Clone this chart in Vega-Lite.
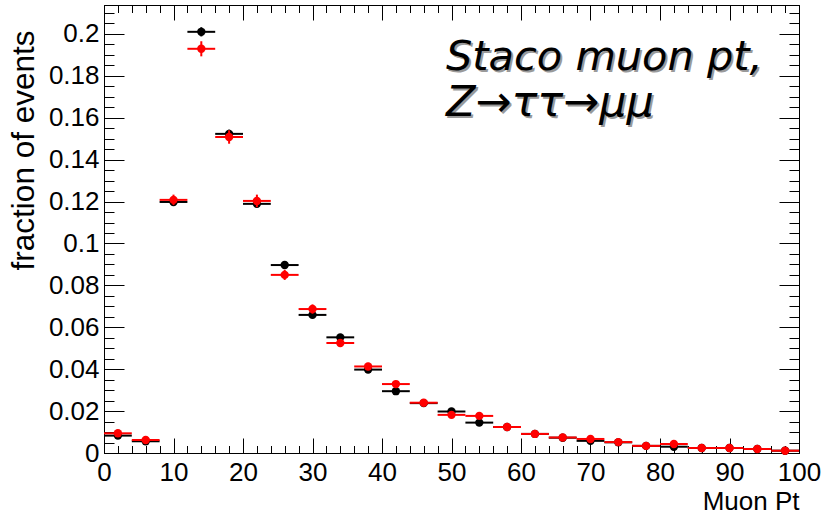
{
  "$schema": "https://vega.github.io/schema/vega-lite/v6.json",
  "width": 695,
  "height": 448,
  "autosize": "none",
  "padding": {"left": 104, "top": 5, "right": 22, "bottom": 62},
  "background": "white",
  "config": {
    "font": "Liberation Sans",
    "view": {"stroke": "black", "strokeWidth": 1},
    "axis": {
      "domainColor": "black",
      "domainWidth": 1,
      "tickColor": "black",
      "tickWidth": 1,
      "labelColor": "black",
      "labelFont": "Liberation Sans",
      "labelFontSize": 26,
      "labelOverlap": false,
      "labelFlush": false,
      "labelBound": false,
      "titleColor": "black",
      "titleFont": "Liberation Sans",
      "titleFontWeight": "normal",
      "grid": false
    }
  },
  "datasets": {
    "sample1": [
      {"lo": 0, "hi": 4, "x": 2, "frac": 0.0083, "err": 0.0006},
      {"lo": 4, "hi": 8, "x": 6, "frac": 0.0056, "err": 0.0005},
      {"lo": 8, "hi": 12, "x": 10, "frac": 0.1198, "err": 0.0018},
      {"lo": 12, "hi": 16, "x": 14, "frac": 0.2010, "err": 0.0022},
      {"lo": 16, "hi": 20, "x": 18, "frac": 0.1523, "err": 0.0020},
      {"lo": 20, "hi": 24, "x": 22, "frac": 0.1189, "err": 0.0018},
      {"lo": 24, "hi": 28, "x": 26, "frac": 0.0897, "err": 0.0015},
      {"lo": 28, "hi": 32, "x": 30, "frac": 0.0659, "err": 0.0013},
      {"lo": 32, "hi": 36, "x": 34, "frac": 0.0552, "err": 0.0012},
      {"lo": 36, "hi": 40, "x": 38, "frac": 0.0398, "err": 0.0010},
      {"lo": 40, "hi": 44, "x": 42, "frac": 0.0295, "err": 0.0009},
      {"lo": 44, "hi": 48, "x": 46, "frac": 0.0238, "err": 0.0008},
      {"lo": 48, "hi": 52, "x": 50, "frac": 0.0198, "err": 0.0007},
      {"lo": 52, "hi": 56, "x": 54, "frac": 0.0145, "err": 0.0006},
      {"lo": 56, "hi": 60, "x": 58, "frac": 0.0124, "err": 0.0006},
      {"lo": 60, "hi": 64, "x": 62, "frac": 0.0091, "err": 0.0005},
      {"lo": 64, "hi": 68, "x": 66, "frac": 0.0073, "err": 0.0004},
      {"lo": 68, "hi": 72, "x": 70, "frac": 0.0058, "err": 0.0004},
      {"lo": 72, "hi": 76, "x": 74, "frac": 0.0051, "err": 0.0004},
      {"lo": 76, "hi": 80, "x": 78, "frac": 0.0034, "err": 0.0003},
      {"lo": 80, "hi": 84, "x": 82, "frac": 0.0030, "err": 0.0003},
      {"lo": 84, "hi": 88, "x": 86, "frac": 0.0024, "err": 0.0003},
      {"lo": 88, "hi": 92, "x": 90, "frac": 0.0024, "err": 0.0003},
      {"lo": 92, "hi": 96, "x": 94, "frac": 0.0019, "err": 0.0002},
      {"lo": 96, "hi": 100, "x": 98, "frac": 0.0011, "err": 0.0002}
    ],
    "sample2": [
      {"lo": 0, "hi": 4, "x": 2, "frac": 0.0094, "err": 0.0008},
      {"lo": 4, "hi": 8, "x": 6, "frac": 0.0062, "err": 0.0007},
      {"lo": 8, "hi": 12, "x": 10, "frac": 0.1208, "err": 0.0025},
      {"lo": 12, "hi": 16, "x": 14, "frac": 0.1929, "err": 0.0036},
      {"lo": 16, "hi": 20, "x": 18, "frac": 0.1508, "err": 0.0032},
      {"lo": 20, "hi": 24, "x": 22, "frac": 0.1203, "err": 0.0030},
      {"lo": 24, "hi": 28, "x": 26, "frac": 0.0850, "err": 0.0024},
      {"lo": 28, "hi": 32, "x": 30, "frac": 0.0687, "err": 0.0022},
      {"lo": 32, "hi": 36, "x": 34, "frac": 0.0525, "err": 0.0019},
      {"lo": 36, "hi": 40, "x": 38, "frac": 0.0413, "err": 0.0017},
      {"lo": 40, "hi": 44, "x": 42, "frac": 0.0329, "err": 0.0015},
      {"lo": 44, "hi": 48, "x": 46, "frac": 0.0240, "err": 0.0013},
      {"lo": 48, "hi": 52, "x": 50, "frac": 0.0182, "err": 0.0011},
      {"lo": 52, "hi": 56, "x": 54, "frac": 0.0177, "err": 0.0011},
      {"lo": 56, "hi": 60, "x": 58, "frac": 0.0124, "err": 0.0009},
      {"lo": 60, "hi": 64, "x": 62, "frac": 0.0091, "err": 0.0008},
      {"lo": 64, "hi": 68, "x": 66, "frac": 0.0074, "err": 0.0007},
      {"lo": 68, "hi": 72, "x": 70, "frac": 0.0067, "err": 0.0007},
      {"lo": 72, "hi": 76, "x": 74, "frac": 0.0052, "err": 0.0006},
      {"lo": 76, "hi": 80, "x": 78, "frac": 0.0034, "err": 0.0005},
      {"lo": 80, "hi": 84, "x": 82, "frac": 0.0043, "err": 0.0006},
      {"lo": 84, "hi": 88, "x": 86, "frac": 0.0024, "err": 0.0004},
      {"lo": 88, "hi": 92, "x": 90, "frac": 0.0024, "err": 0.0004},
      {"lo": 92, "hi": 96, "x": 94, "frac": 0.0019, "err": 0.0004},
      {"lo": 96, "hi": 100, "x": 98, "frac": 0.0011, "err": 0.0003}
    ],
    "caption1": [{"label": "Staco muon pt,"}],
    "caption2": [{"label": "Z→ττ→μμ"}]
  },
  "layer": [
    {
      "data": {"name": "sample1"},
      "mark": {"type": "rule", "color": "black", "strokeWidth": 2},
      "encoding": {
        "x": {
          "field": "lo", "type": "quantitative",
          "scale": {"domain": [0, 100], "nice": false, "zero": false},
          "axis": {
            "orient": "bottom",
            "values": [0, 10, 20, 30, 40, 50, 60, 70, 80, 90, 100],
            "format": "d",
            "tickSize": -15,
            "labelPadding": 21,
            "title": "Muon Pt",
            "titleFontSize": 26,
            "titleAnchor": "end",
            "titlePadding": 3
          }
        },
        "x2": {"field": "hi"},
        "y": {
          "field": "frac", "type": "quantitative",
          "scale": {"domain": [0, 0.2138], "nice": false, "zero": false},
          "axis": {
            "orient": "left",
            "values": [0, 0.02, 0.04, 0.06, 0.08, 0.1, 0.12, 0.14, 0.16, 0.18, 0.2],
            "format": "~g",
            "tickSize": -20,
            "labelPadding": 25,
            "title": "fraction of events",
            "titleFontSize": 31.5,
            "titleAnchor": "end",
            "titleY": 25,
            "titlePadding": 8
          }
        }
      }
    },
    {
      "data": {"name": "sample1"},
      "mark": {"type": "errorbar", "color": "black", "thickness": 2},
      "encoding": {
        "x": {"field": "x", "type": "quantitative", "scale": {"domain": [0, 100], "nice": false, "zero": false}, "axis": null},
        "y": {"field": "frac", "type": "quantitative", "scale": {"domain": [0, 0.2138], "nice": false, "zero": false}, "axis": null},
        "yError": {"field": "err"}
      }
    },
    {
      "data": {"name": "sample1"},
      "mark": {"type": "point", "filled": true, "color": "black", "size": 70, "opacity": 1},
      "encoding": {
        "x": {
          "field": "x", "type": "quantitative",
          "scale": {"domain": [0, 100], "nice": false, "zero": false},
          "axis": {
            "orient": "bottom",
            "values": [2,4,6,8,12,14,16,18,22,24,26,28,32,34,36,38,42,44,46,48,52,54,56,58,62,64,66,68,72,74,76,78,82,84,86,88,92,94,96,98],
            "labels": false,
            "domain": false,
            "tickSize": -7.5,
            "title": null
          }
        },
        "y": {
          "field": "frac", "type": "quantitative",
          "scale": {"domain": [0, 0.2138], "nice": false, "zero": false},
          "axis": {
            "orient": "left",
            "values": [0.005,0.01,0.015,0.025,0.03,0.035,0.045,0.05,0.055,0.065,0.07,0.075,0.085,0.09,0.095,0.105,0.11,0.115,0.125,0.13,0.135,0.145,0.15,0.155,0.165,0.17,0.175,0.185,0.19,0.195,0.205,0.21],
            "labels": false,
            "domain": false,
            "tickSize": -10,
            "title": null
          }
        }
      }
    },
    {
      "data": {"name": "sample2"},
      "mark": {"type": "rule", "color": "red", "strokeWidth": 2},
      "encoding": {
        "x": {
          "field": "lo", "type": "quantitative",
          "scale": {"domain": [0, 100], "nice": false, "zero": false},
          "axis": {
            "orient": "top",
            "values": [0, 10, 20, 30, 40, 50, 60, 70, 80, 90, 100],
            "labels": false,
            "tickSize": -15,
            "title": null
          }
        },
        "x2": {"field": "hi"},
        "y": {
          "field": "frac", "type": "quantitative",
          "scale": {"domain": [0, 0.2138], "nice": false, "zero": false},
          "axis": {
            "orient": "right",
            "values": [0, 0.02, 0.04, 0.06, 0.08, 0.1, 0.12, 0.14, 0.16, 0.18, 0.2],
            "labels": false,
            "tickSize": -20,
            "title": null
          }
        }
      }
    },
    {
      "data": {"name": "sample2"},
      "mark": {"type": "errorbar", "color": "red", "thickness": 2},
      "encoding": {
        "x": {"field": "x", "type": "quantitative", "scale": {"domain": [0, 100], "nice": false, "zero": false}, "axis": null},
        "y": {"field": "frac", "type": "quantitative", "scale": {"domain": [0, 0.2138], "nice": false, "zero": false}, "axis": null},
        "yError": {"field": "err"}
      }
    },
    {
      "data": {"name": "sample2"},
      "mark": {"type": "point", "filled": true, "color": "red", "size": 70, "opacity": 1},
      "encoding": {
        "x": {
          "field": "x", "type": "quantitative",
          "scale": {"domain": [0, 100], "nice": false, "zero": false},
          "axis": {
            "orient": "top",
            "values": [2,4,6,8,12,14,16,18,22,24,26,28,32,34,36,38,42,44,46,48,52,54,56,58,62,64,66,68,72,74,76,78,82,84,86,88,92,94,96,98],
            "labels": false,
            "domain": false,
            "tickSize": -7.5,
            "title": null
          }
        },
        "y": {
          "field": "frac", "type": "quantitative",
          "scale": {"domain": [0, 0.2138], "nice": false, "zero": false},
          "axis": {
            "orient": "right",
            "values": [0.005,0.01,0.015,0.025,0.03,0.035,0.045,0.05,0.055,0.065,0.07,0.075,0.085,0.09,0.095,0.105,0.11,0.115,0.125,0.13,0.135,0.145,0.15,0.155,0.165,0.17,0.175,0.185,0.19,0.195,0.205,0.21],
            "labels": false,
            "domain": false,
            "tickSize": -10,
            "title": null
          }
        }
      }
    },
    {
      "data": {"name": "caption1"},
      "mark": {"type": "text", "font": "DejaVu Sans", "fontStyle": "italic", "fontSize": 41.5, "align": "left", "baseline": "alphabetic", "color": "#9a9a9a", "dx": 2, "dy": 2},
      "encoding": {
        "x": {"datum": 49.2, "type": "quantitative", "scale": {"domain": [0, 100], "nice": false, "zero": false}, "axis": null},
        "y": {"datum": 0.1828, "type": "quantitative", "scale": {"domain": [0, 0.2138], "nice": false, "zero": false}, "axis": null},
        "text": {"field": "label"}
      }
    },
    {
      "data": {"name": "caption1"},
      "mark": {"type": "text", "font": "DejaVu Sans", "fontStyle": "italic", "fontSize": 41.5, "align": "left", "baseline": "alphabetic", "color": "black"},
      "encoding": {
        "x": {"datum": 49.2, "type": "quantitative", "scale": {"domain": [0, 100], "nice": false, "zero": false}, "axis": null},
        "y": {"datum": 0.1828, "type": "quantitative", "scale": {"domain": [0, 0.2138], "nice": false, "zero": false}, "axis": null},
        "text": {"field": "label"}
      }
    },
    {
      "data": {"name": "caption2"},
      "mark": {"type": "text", "font": "DejaVu Sans", "fontStyle": "italic", "fontSize": 43, "align": "left", "baseline": "alphabetic", "color": "#9a9a9a", "dx": 2, "dy": 2},
      "encoding": {
        "x": {"datum": 49.2, "type": "quantitative", "scale": {"domain": [0, 100], "nice": false, "zero": false}, "axis": null},
        "y": {"datum": 0.1609, "type": "quantitative", "scale": {"domain": [0, 0.2138], "nice": false, "zero": false}, "axis": null},
        "text": {"field": "label"}
      }
    },
    {
      "data": {"name": "caption2"},
      "mark": {"type": "text", "font": "DejaVu Sans", "fontStyle": "italic", "fontSize": 43, "align": "left", "baseline": "alphabetic", "color": "black"},
      "encoding": {
        "x": {"datum": 49.2, "type": "quantitative", "scale": {"domain": [0, 100], "nice": false, "zero": false}, "axis": null},
        "y": {"datum": 0.1609, "type": "quantitative", "scale": {"domain": [0, 0.2138], "nice": false, "zero": false}, "axis": null},
        "text": {"field": "label"}
      }
    }
  ],
  "resolve": {"axis": {"x": "independent", "y": "independent"}}
}
